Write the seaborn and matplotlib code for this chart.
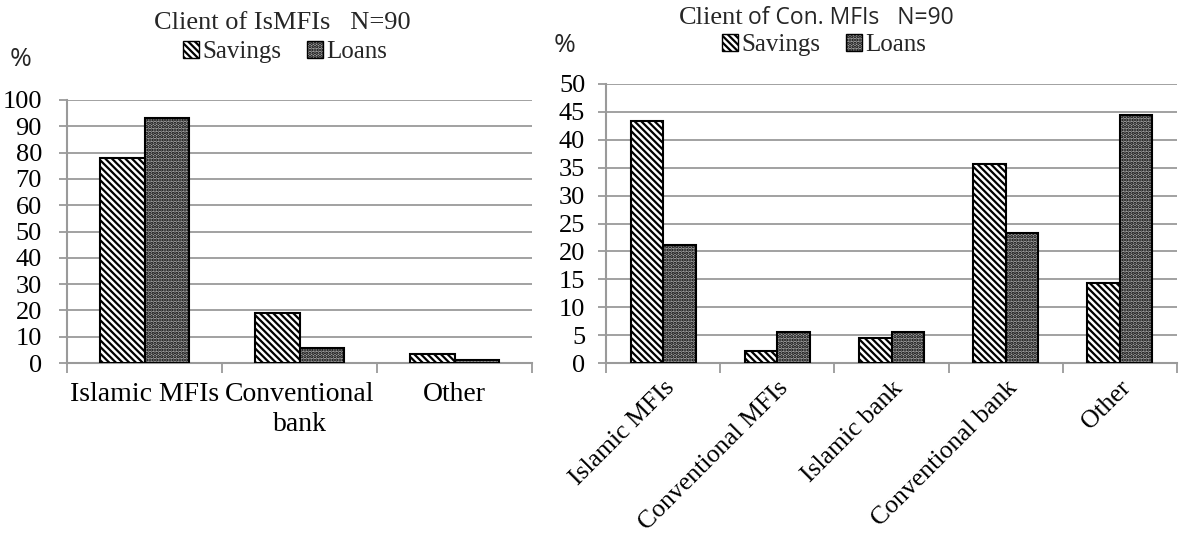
import matplotlib
matplotlib.use("Agg")
import matplotlib.pyplot as plt
import seaborn as sns
import pandas as pd
from matplotlib.patches import Patch

# ---- data ----
left_title = "Client of IsMFIs   N=90"
left_categories = ["Islamic MFIs", "Conventional\nbank", "Other"]
left_savings = [77.8, 18.9, 3.3]
left_loans = [93.3, 5.6, 1.1]

right_categories = ["Islamic MFIs", "Conventional MFIs", "Islamic bank", "Conventional bank", "Other"]
right_savings = [43.3, 2.2, 4.4, 35.6, 14.4]
right_loans = [21.1, 5.6, 5.6, 23.3, 44.4]

series = ["Savings", "Loans"]
left_yticks = list(range(0, 101, 10))
right_yticks = list(range(0, 51, 5))

sns.set_theme(style="white")
plt.rcParams["font.family"] = ["Liberation Serif", "DejaVu Serif"]
plt.rcParams["hatch.linewidth"] = 1.6

GRID = "#9a9a9a"
SAV_STYLE = dict(facecolor="white", hatch="\\\\\\\\\\", edgecolor="black")
LOAN_STYLE = dict(facecolor="#a4a4a4", hatch=".....", edgecolor="black")

fig = plt.figure(figsize=(11.79, 5.39), dpi=100)
axL = fig.add_axes([67/1179, 1-363/539, (532-67)/1179, (363-100)/539])
axR = fig.add_axes([606/1179, 1-363/539, (1177-606)/1179, (363-84)/539])


def make_df(cats, sav, loan):
    return pd.DataFrame({
        "cat": cats * 2,
        "series": [series[0]] * len(cats) + [series[1]] * len(cats),
        "value": sav + loan,
    })


def draw(ax, cats, sav, loan, yticks, ypad):
    df = make_df(cats, sav, loan)
    sns.barplot(data=df, x="cat", y="value", hue="series", hue_order=series,
                order=cats, width=0.57, ax=ax, legend=False, errorbar=None,
                linewidth=1.5, saturation=1)
    for cont, style in zip(ax.containers, [SAV_STYLE, LOAN_STYLE]):
        for p in cont:
            p.set_facecolor(style["facecolor"])
            p.set_hatch(style["hatch"])
            p.set_edgecolor(style["edgecolor"])
            p.set_linewidth(1.5)
            p.set_zorder(3)
    n = len(cats)
    ax.set_xlim(-0.5, n - 0.5)
    ax.set_ylim(yticks[0], yticks[-1])
    ax.set_yticks(yticks)
    ax.yaxis.grid(True, color=GRID, linewidth=1.3)
    ax.set_axisbelow(True)
    ax.set_xlabel("")
    ax.set_ylabel("")
    for s in ["top", "right"]:
        ax.spines[s].set_visible(False)
    for s in ["left", "bottom"]:
        ax.spines[s].set_color(GRID)
        ax.spines[s].set_linewidth(1.5)
    ax.tick_params(axis="y", left=True, length=6, width=1.3, color=GRID,
                   labelsize=19, pad=ypad, labelcolor="black")
    ax.set_xticks([i - 0.5 for i in range(n + 1)], minor=False)
    ax.set_xticklabels([""] * (n + 1))
    ax.set_xticks(range(n), minor=True)
    ax.tick_params(axis="x", which="major", bottom=True, length=7, width=1.3, color=GRID)
    ax.tick_params(axis="x", which="minor", bottom=False, labelcolor="black")


draw(axL, left_categories, left_savings, left_loans, left_yticks, 12)
axL.set_xticklabels(left_categories, minor=True, fontsize=20, linespacing=1.25)
axL.tick_params(axis="x", which="minor", pad=10)

draw(axR, right_categories, right_savings, right_loans, right_yticks, 9)
axR.set_xticklabels(right_categories, minor=True, fontsize=18.5, rotation=45,
                    ha="right", rotation_mode="anchor")
axR.tick_params(axis="x", which="minor", pad=6)

# titles
fig.text(282/1179, 1-23/539, left_title, ha="center", va="center", fontsize=19)
fig.text(743/1179, 1-18/539, "Client", ha="right", va="center", fontsize=19)
fig.text(748/1179, 1-18/539, "of Con. MFIs   N=90", ha="left", va="center",
         fontsize=16.5, family=["Open Sans", "DejaVu Sans"])

# percent labels
fig.text(21/1179, 1-59/539, "%", ha="center", va="center", fontsize=19,
         family=["Open Sans", "DejaVu Sans"])
fig.text(565/1179, 1-45/539, "%", ha="center", va="center", fontsize=19,
         family=["Open Sans", "DejaVu Sans"])

# legends
handles = [Patch(linewidth=1.0, **SAV_STYLE), Patch(linewidth=1.0, **LOAN_STYLE)]
for cx, cy in [(285, 52), (824, 45)]:
    fig.legend(handles, series, loc="center", bbox_to_anchor=(cx/1179, 1-cy/539),
               ncol=2, frameon=False, fontsize=18, handlelength=0.65,
               handleheight=0.65, handletextpad=0.15, columnspacing=1.0,
               borderpad=0, borderaxespad=0)

fig.savefig("out.png", dpi=100)
